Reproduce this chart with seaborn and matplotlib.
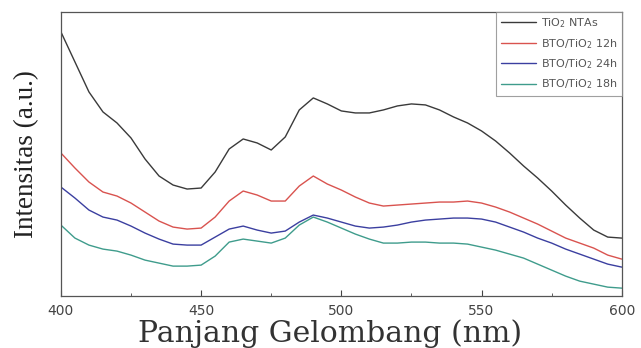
import numpy as np
import pandas as pd
import matplotlib
matplotlib.use("Agg")
import matplotlib.pyplot as plt
from matplotlib.ticker import MultipleLocator
import seaborn as sns

# wavelength grid (nm)
wavelength = list(range(400, 601, 5))

tio2_ntas = [264, 234, 204, 184, 173, 158, 137, 120, 111, 107, 108, 124, 147, 157, 153, 146,
             159, 186, 198, 192, 185, 183, 183, 186, 190, 192, 191, 186, 179, 173, 165, 155,
             143, 130, 118, 105, 91, 78, 66, 59, 58]
bto_12h = [143, 128, 114, 104, 100, 93, 84, 75, 69, 67, 68, 79, 95, 105, 101, 95,
           95, 110, 120, 112, 106, 99, 93, 90, 91, 92, 93, 94, 94, 95, 93, 89,
           84, 78, 72, 65, 58, 53, 48, 41, 37]
bto_24h = [109, 98, 86, 79, 76, 70, 63, 57, 52, 51, 51, 59, 67, 70, 66, 63,
           65, 74, 81, 78, 74, 70, 68, 69, 71, 74, 76, 77, 78, 78, 77, 74,
           69, 64, 58, 53, 47, 42, 37, 32, 29]
bto_18h = [71, 58, 51, 47, 45, 41, 36, 33, 30, 30, 31, 40, 54, 57, 55, 53,
           58, 71, 79, 74, 68, 62, 57, 53, 53, 54, 54, 53, 53, 52, 49, 46,
           42, 38, 32, 26, 20, 15, 12, 9, 8]

labels = ["TiO$_2$ NTAs", "BTO/TiO$_2$ 12h", "BTO/TiO$_2$ 24h", "BTO/TiO$_2$ 18h"]
colors = ["#3a3a3a", "#d9534f", "#3b3fa0", "#3f9c8c"]

#long form table for seaborn
frames = []
for lab, vals in zip(labels, [tio2_ntas, bto_12h, bto_24h, bto_18h]):
    frames.append(pd.DataFrame({"wl": wavelength, "I": vals, "sample": lab}))
df = pd.concat(frames, ignore_index=True)

sns.set_style("ticks")
plt.rcParams['font.family'] = ['DejaVu Sans']

fig = plt.figure(figsize=(6.41, 3.48), dpi=100)
ax = fig.add_axes([0.095, 0.149, 0.875, 0.817])

sns.lineplot(data=df, x="wl", y="I", hue="sample", palette=colors,
             linewidth=1.0, ax=ax)

ax.set_xlim(400, 600)
ax.set_ylim(0, 284)
ax.xaxis.set_major_locator(MultipleLocator(50))
ax.xaxis.set_minor_locator(MultipleLocator(25))
ax.tick_params(axis="x", which="both", direction="in", labelsize=10,
               colors="#444444", pad=6)
ax.tick_params(axis="x", which="major", length=4)
ax.tick_params(axis="x", which="minor", length=2)
ax.set_yticks([])
for sp in ax.spines.values():
    sp.set_color("#555555")
    sp.set_linewidth(0.9)

ax.set_xlabel("Panjang Gelombang (nm)", family="DejaVu Serif", fontsize=21.5,
              color="#333333")
ax.xaxis.set_label_coords(0.48, -0.08)
ax.set_ylabel("Intensitas (a.u.)", family="Liberation Serif", fontsize=19.5,
              color="#222222")
ax.yaxis.set_label_coords(-0.038, 0.5)

leg = ax.legend(loc="upper right", fontsize=8, frameon=True, fancybox=False,
                handlelength=3.2, borderaxespad=0.0, labelspacing=0.6,
                handletextpad=0.4, borderpad=0.4)
leg.get_frame().set_edgecolor("#888888")
leg.get_frame().set_linewidth(0.8)
for t in leg.get_texts():
    t.set_color("#555555")

fig.savefig("out.png", dpi=100)
